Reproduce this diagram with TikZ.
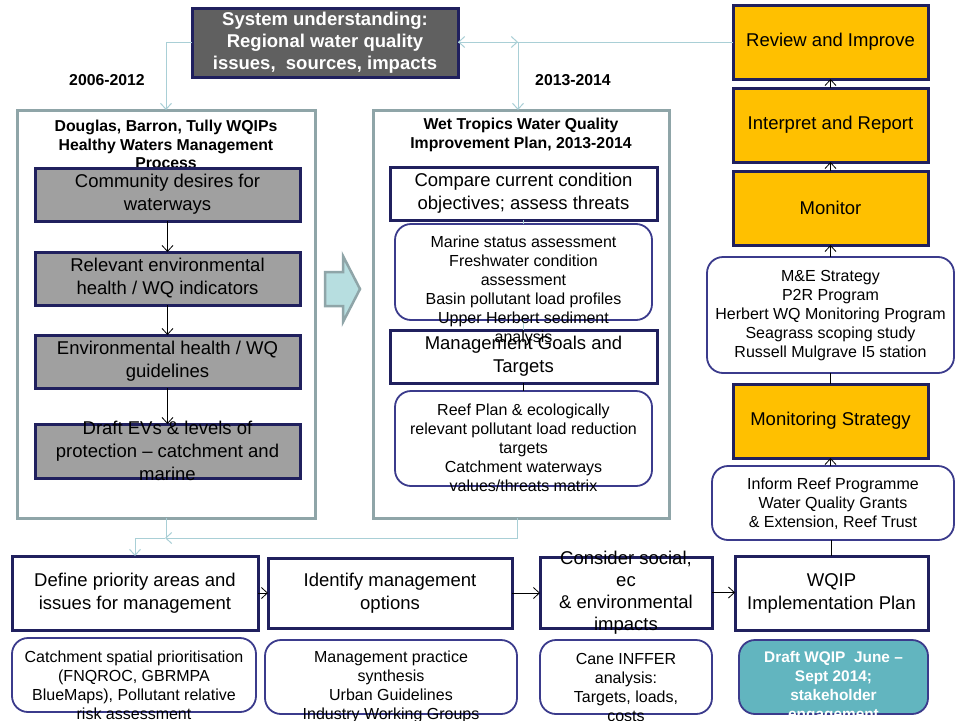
\documentclass[tikz,border=0pt]{standalone}
\usepackage{fontspec}
\setmainfont{Liberation Sans}
\usetikzlibrary{arrows.meta}
\definecolor{navy}{HTML}{20205E}
\definecolor{rnavy}{HTML}{3B3B8C}
\definecolor{gfill}{HTML}{A0A0A0}
\definecolor{sysfill}{HTML}{606060}
\definecolor{orng}{HTML}{FFC000}
\definecolor{tealb}{HTML}{62B5BF}
\definecolor{pborder}{HTML}{8FA5A8}
\definecolor{lconn}{HTML}{A9CFD6}
\definecolor{afill}{HTML}{B7DEE0}
\begin{document}
\begin{tikzpicture}[x=1pt,y=-1pt,
  sq/.style={draw=navy,line width=3pt,inner sep=0pt,outer sep=0pt},
  grey/.style={sq,fill=gfill},
  wht/.style={sq,fill=white},
  org/.style={sq,fill=orng},
  rnd/.style={draw=rnavy,line width=1.8pt,rounded corners=16pt,fill=white,inner sep=0pt,outer sep=0pt},
  panel/.style={draw=pborder,line width=3pt,fill=white,inner sep=0pt,outer sep=0pt},
  tbig/.style={font=\fontsize{18.5}{23}\selectfont,align=center,inner sep=0pt},
  tsm/.style={font=\fontsize{16}{19}\selectfont,align=center,inner sep=0pt},
  tbold/.style={font=\bfseries\fontsize{15.8}{18.5}\selectfont,align=center,inner sep=0pt},
  conn/.style={draw=black,line width=0.8pt,-{Straight Barb[length=6pt,width=11pt,line width=0.8pt]}},
  plain/.style={draw=black,line width=0.8pt},
  lc/.style={draw=lconn,line width=1pt},
  lca/.style={lc,-{Straight Barb[length=6pt,width=11pt,line width=1pt]}}
]
\useasboundingbox (0,0) rectangle (960,720);
\fill[white] (0,0) rectangle (960,720);

% panels
\node[panel,minimum width=298,minimum height=408] (lp) at (166,314) {};
\node[panel,minimum width=296,minimum height=408] (mp) at (521,314) {};

% system box
\node[sq,fill=sysfill,minimum width=266,minimum height=69] (sys) at (325,42.5) {};
\node[font=\bfseries\fontsize{18.5}{22}\selectfont,text=white,align=center,inner sep=0pt] (syst) at (325,42.5)
  {System understanding:\\Regional water quality\\issues,~ sources, impacts};

\node[tbold] (y1) at (107,80) {2006-2012};
\node[tbold] (y2) at (573,80) {2013-2014};

% left panel
\node[tbold] (lpt) at (166,144.5) {Douglas, Barron, Tully WQIPs\\Healthy Waters Management\\Process};
\node[grey,minimum width=265,minimum height=53] (g1) at (167.5,194.5) {};
\node[tbig] (g1t) at (g1.center) {Community desires for\\waterways};
\node[grey,minimum width=265,minimum height=53] (g2) at (167.5,278.5) {};
\node[tbig] (g2t) at (g2.center) {Relevant environmental\\health / WQ indicators};
\node[grey,minimum width=265,minimum height=53] (g3) at (167.5,361.5) {};
\node[tbig] (g3t) at (g3.center) {Environmental health / WQ\\guidelines};
\node[grey,minimum width=265,minimum height=54] (g4) at (167.5,451) {};
\node[tbig] (g4t) at (g4.center) {Draft EVs \& levels of\\protection -- catchment and\\marine};
\draw[conn] (g1.south) -- (g2.north);
\draw[conn] (g2.south) -- (g3.north);
\draw[conn] (g3.south) -- (g4.north);

% block arrow
\draw[draw=pborder,line width=2.5pt,fill=afill,line join=miter]
  (325,272) -- (343,272) -- (343,256) -- (360,289) -- (343,322) -- (343,306) -- (325,306) -- cycle;

% middle panel
\node[tbold] (mpt) at (521,135) {Wet Tropics Water Quality\\Improvement Plan, 2013-2014};
\node[wht,minimum width=267,minimum height=53] (cmp) at (523.5,193.5) {};
\node[tbig] (cmpt) at (cmp.center) {Compare current condition\\objectives; assess threats};
\node[rnd,minimum width=257,minimum height=96] (mr1) at (523.5,272) {};
\node[wht,minimum width=267,minimum height=53] (mg) at (523.5,356.5) {};
\node[rnd,minimum width=257,minimum height=95] (mr2) at (523.5,438.5) {};
\draw[lc] (cmp.south) -- (mr1.north);
\draw[lc] (mr1.south) -- (mg.north);
\draw[plain,line width=0.6pt] (mg.south) -- (mr2.north);
\node[tsm] (mr1t) at (523.5,290.5) {Marine status assessment\\Freshwater condition\\assessment\\Basin pollutant load profiles\\Upper Herbert sediment\\analysis};
\node[tbig] (mgt) at (mg.center) {Management Goals and\\Targets};
\node[tsm] (mr2t) at (523.5,448) {Reef Plan \& ecologically\\relevant pollutant load reduction\\targets\\Catchment waterways\\values/threats matrix};

% right column
\node[org,minimum width=195,minimum height=74] (rev) at (830.5,42) {};
\node[tbig] (revt) at (rev.center) {Review and Improve};
\node[org,minimum width=195,minimum height=74] (int) at (830.5,125) {};
\node[tbig] (intt) at (int.center) {Interpret and Report};
\node[org,minimum width=195,minimum height=74] (mon) at (830.5,208) {};
\node[tbig] (mont) at (mon.center) {Monitor};
\node[rnd,minimum width=247,minimum height=116] (me) at (830.5,315) {};
\node[tsm] (met) at (830.5,316) {M\&E Strategy\\P2R Program\\Herbert WQ Monitoring Program\\Seagrass scoping study\\Russell Mulgrave I5 station};
\node[org,minimum width=195,minimum height=74] (ms) at (830.5,421) {};
\node[tbig] (mst) at (ms.center) {Monitoring Strategy};
\node[rnd,minimum width=242,minimum height=74] (inf) at (833,503) {};
\node[tsm] (inft) at (833,504) {Inform Reef Programme\\Water Quality Grants\\\& Extension, Reef Trust};
\node[wht,minimum width=193,minimum height=74] (wq) at (831.5,593) {};
\node[tbig] (wqt) at (wq.center) {WQIP\\Implementation Plan};

\draw[plain] (wq.north) -- (wq.north |- inf.south);
\draw[conn] (inf.north -| ms.south) -- (ms.south);
\draw[plain] (ms.north) -- (me.south);
\draw[conn] (me.north) -- (mon.south);
\draw[conn] (mon.north) -- (int.south);
\draw[conn] (int.north) -- (rev.south);

% bottom row
\node[wht,minimum width=246,minimum height=74] (def) at (135,593) {};
\node[tbig] (deft) at (def.center) {Define priority areas and\\issues for management};
\node[wht,minimum width=244,minimum height=70] (idm) at (390,593) {};
\node[tbig] (idmt) at (idm.center) {Identify management\\options};
\node[wht,minimum width=172,minimum height=71] (con) at (626,592.5) {};
\node[tbig,font=\fontsize{18.5}{22}\selectfont] (cont) at (con.center) {Consider social,\\ec\\\& environmental\\impacts};
\draw[conn] (def.east) -- (idm.west);
\draw[conn] (idm.east) -- (idm.east -| con.west);
\draw[conn] (con.east) -- (con.east -| wq.west);

\node[rnd,minimum width=244,minimum height=74] (cat) at (134,675) {};
\node[tsm] (catt) at (134,685.5) {Catchment spatial prioritisation\\(FNQROC, GBRMPA\\BlueMaps), Pollutant relative\\risk assessment};
\node[rnd,minimum width=252,minimum height=74] (mpr) at (391,677) {};
\node[tsm] (mprt) at (391,686.5) {Management practice\\synthesis\\Urban Guidelines\\Industry Working Groups};
\node[rnd,minimum width=172,minimum height=74] (cane) at (626,677) {};
\node[tsm] (canet) at (626,687) {Cane INFFER\\analysis:\\Targets, loads,\\costs};
\node[rnd,fill=tealb,minimum width=189,minimum height=74] (dr) at (833.5,677) {};
\node[tbold,font=\bfseries\fontsize{15.4}{19}\selectfont,text=white] (drt) at (833.5,687) {Draft WQIP~ June --\\Sept 2014;\\stakeholder\\engagement};

% light connectors
\coordinate (br) at (518,42);
\coordinate (j1) at (165,538);
\coordinate (j2) at (517,538);
\draw[lca] (sys.west) -| (lp.north);
\draw[lca] (rev.west) -- (rev.west -| sys.east);
\draw[lca] (sys.east |- br) -- (br);
\draw[lca] (br) -- (br |- mp.north);
\draw[lca] (j2 |- mp.south) -- (j2) -- (j1);
\draw[lc] (lp.south) -- (lp.south |- j1);
\draw[lca] (j1) -| (def.north);

\end{tikzpicture}
\end{document}
